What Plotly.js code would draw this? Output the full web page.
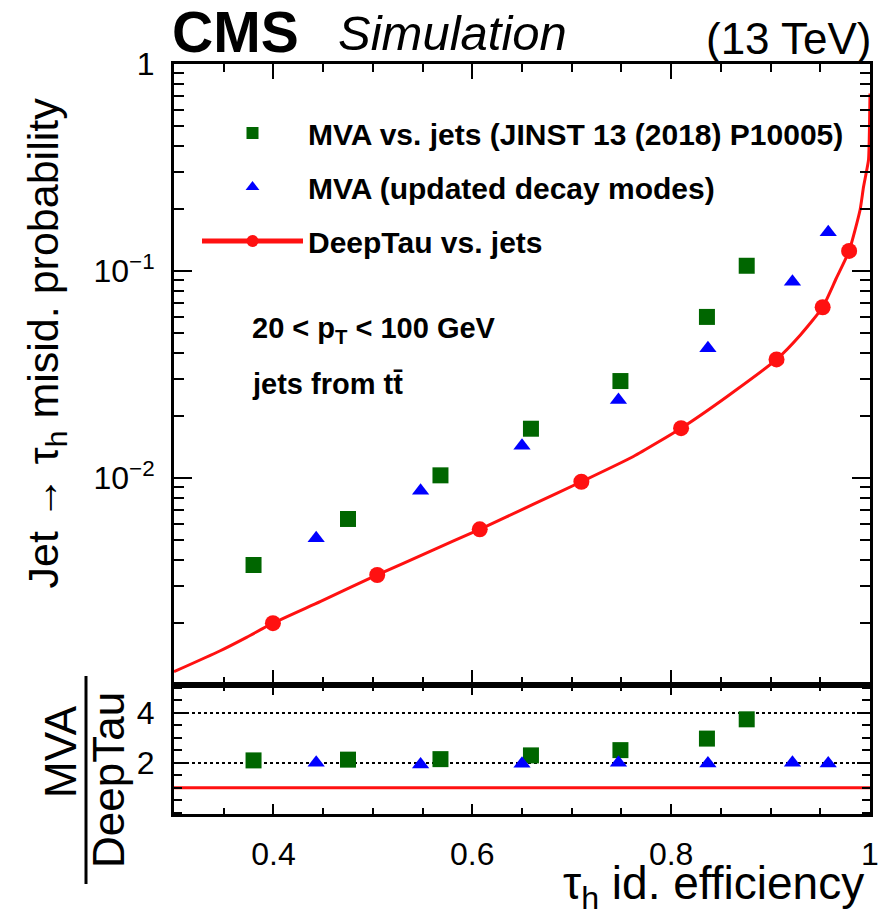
<!DOCTYPE html>
<html>
<head>
<meta charset="utf-8">
<script src="https://cdn.plot.ly/plotly-3.0.1.min.js"></script>
<style>html,body{margin:0;padding:0;background:#fff;}#plot{width:895px;height:913px;}</style>
</head>
<body>
<div id="plot"></div>
<script>
// ---- data ----
const mvaX = [0.380, 0.475, 0.568, 0.659, 0.749, 0.836, 0.876];
const mvaY = [0.00380, 0.00634, 0.0103, 0.0173, 0.0294, 0.0600, 0.106];
const mvaUpdX = [0.443, 0.548, 0.650, 0.747, 0.837, 0.922, 0.958];
const mvaUpdY = [0.00511, 0.00868, 0.0143, 0.0238, 0.0423, 0.0888, 0.154];
const deepX = [0.3995, 0.5044, 0.6075, 0.7097, 0.810, 0.906, 0.9524, 0.979];
const deepY = [0.00199, 0.00340, 0.00565, 0.00959, 0.0174, 0.0374, 0.0668, 0.125];
const curveX = [0.300, 0.346, 0.373, 0.3995, 0.447, 0.5044, 0.557, 0.6075, 0.660, 0.7097, 0.762, 0.810, 0.856, 0.906, 0.930, 0.9524, 0.966, 0.979, 0.990, 0.9935, 0.9985, 0.9995, 1.000];
const curveY = [0.00116, 0.00146, 0.00170, 0.00199, 0.00253, 0.00340, 0.00441, 0.00565, 0.00741, 0.00959, 0.0127, 0.0174, 0.0247, 0.0374, 0.0491, 0.0668, 0.092, 0.125, 0.197, 0.255, 0.344, 0.50, 0.72];
const ratioMvaY = [2.09, 2.12, 2.14, 2.29, 2.50, 2.96, 3.73];
const ratioUpdY = [2.00, 1.93, 1.96, 2.00, 1.97, 2.00, 1.97];
const refX = [0.3, 1.0];
const refY = [1, 1];
const xTickVals = [0.4, 0.6, 0.8, 1.0];
const xTickText = ['0.4', '0.6', '0.8', '1'];
const yTickVals = [0.01, 0.1, 1];
const yTickText = ['10<sup>\u22122</sup>', '10<sup>\u22121</sup>', '1'];
const rTickVals = [2, 4];
const rTickText = ['2', '4'];
const legendNames = ['MVA vs. jets (JINST 13 (2018) P10005)', 'MVA (updated decay modes)', 'DeepTau vs. jets'];

const GREEN = '#006600', BLUE = '#0000ff', RED = '#ff1111';
const FONT = 'Liberation Sans, Arial, sans-serif';

const deepSizes = curveX.map(v => deepX.indexOf(v) >= 0 ? 16 : 0);

const traces = [
  {x: mvaX, y: mvaY, type: 'scatter', mode: 'markers', name: legendNames[0], legendgroup: 'a',
   marker: {symbol: 'square', size: 16, color: GREEN}, xaxis: 'x', yaxis: 'y'},
  {x: mvaUpdX, y: mvaUpdY, type: 'scatter', mode: 'markers', name: legendNames[1], legendgroup: 'b',
   marker: {symbol: 'triangle-up', size: 15, color: BLUE}, xaxis: 'x', yaxis: 'y'},
  {x: curveX, y: curveY, type: 'scatter', mode: 'lines+markers', name: legendNames[2], legendgroup: 'c',
   line: {color: RED, width: 3, shape: 'spline', smoothing: 0.5},
   marker: {symbol: 'circle', size: deepSizes, color: RED, opacity: 1, line: {width: 0}}, xaxis: 'x', yaxis: 'y'},
  {x: refX, y: refY, type: 'scatter', mode: 'lines', showlegend: false,
   line: {color: RED, width: 3}, xaxis: 'x2', yaxis: 'y2'},
  {x: mvaX, y: ratioMvaY, type: 'scatter', mode: 'markers', showlegend: false,
   marker: {symbol: 'square', size: 16, color: GREEN}, xaxis: 'x2', yaxis: 'y2'},
  {x: mvaUpdX, y: ratioUpdY, type: 'scatter', mode: 'markers', showlegend: false,
   marker: {symbol: 'triangle-up', size: 15, color: BLUE}, xaxis: 'x2', yaxis: 'y2'}
];

const L = 174, R = 870, T = 64, B = 814, W = 895, H = 913;
const px = v => (v - L) / (R - L);
const py = v => (B - v) / (B - T);
const SPLIT = 0.172;
const X_RANGE = [0.3, 1.0], Y_LOG_RANGE = [-3, 0], R_RANGE = [-0.05, 5.1];
const plotH = B - T, plotW = R - L;

function ax(extra) {
  return Object.assign({linecolor: 'black', linewidth: 3, mirror: true, ticks: '',
    showgrid: false, zeroline: false,
    tickfont: {family: FONT, size: 32, color: 'black'}}, extra);
}

const layout = {
  width: W, height: H,
  margin: {l: L, r: W - R, t: T, b: H - B},
  paper_bgcolor: 'white', plot_bgcolor: 'rgba(0,0,0,0)',
  showlegend: true,
  legend: {x: px(197), y: py(107), xanchor: 'left', yanchor: 'top', bgcolor: 'rgba(0,0,0,0)',
    font: {family: FONT, size: 30, color: 'black', weight: 'bold'}, tracegroupgap: 12, itemwidth: 101,
    itemsizing: 'constant', traceorder: 'grouped'},
  xaxis: ax({domain: [0, 1], range: X_RANGE, anchor: 'y', showticklabels: false, tickvals: xTickVals}),
  yaxis: ax({domain: [SPLIT, 1], type: 'log', range: Y_LOG_RANGE, anchor: 'x',
    tickvals: yTickVals, ticktext: yTickText, ticklabelstandoff: 10}),
  xaxis2: ax({domain: [0, 1], range: X_RANGE, anchor: 'y2',
    tickvals: xTickVals, ticktext: xTickText, ticklabelstandoff: 10}),
  yaxis2: ax({domain: [0, SPLIT], range: R_RANGE, anchor: 'x2',
    tickvals: rTickVals, ticktext: rTickText, ticklabelstandoff: 10,
    showgrid: true, gridcolor: 'black', gridwidth: 1.5, griddash: 'dot'}),
  annotations: [
    {xref: 'paper', yref: 'paper', x: px(170), y: py(32), xanchor: 'left', yanchor: 'middle', showarrow: false,
     text: '<b>CMS</b>', font: {family: FONT, size: 57, color: 'black'}},
    {xref: 'paper', yref: 'paper', x: px(336), y: py(33), xanchor: 'left', yanchor: 'middle', showarrow: false,
     text: '<i>Simulation</i>', font: {family: FONT, size: 49, color: 'black'}},
    {xref: 'paper', yref: 'paper', x: px(874), y: py(38), xanchor: 'right', yanchor: 'middle', showarrow: false,
     text: '(13 TeV)', font: {family: FONT, size: 44, color: 'black'}},
    {xref: 'paper', yref: 'paper', x: px(250), y: py(330), xanchor: 'left', yanchor: 'middle', showarrow: false,
     text: '<b>20 < p<sub>T</sub> < 100 GeV</b>', font: {family: FONT, size: 29, color: 'black'}},
    {xref: 'paper', yref: 'paper', x: px(250), y: py(384), xanchor: 'left', yanchor: 'middle', showarrow: false,
     text: '<b>jets from tt\u0304</b>', font: {family: FONT, size: 29, color: 'black'}},
    {xref: 'paper', yref: 'paper', x: px(45), y: py(96), xanchor: 'center', yanchor: 'top', showarrow: false, textangle: -90,
     text: 'Jet \u2192 \u03c4<sub>h</sub> misid. probability', font: {family: FONT, size: 43, color: 'black'}},
    {xref: 'paper', yref: 'paper', x: px(866), y: py(886), xanchor: 'right', yanchor: 'middle', showarrow: false,
     text: '\u03c4<sub>h</sub> id. efficiency', font: {family: FONT, size: 46, color: 'black'}},
    {xref: 'paper', yref: 'paper', x: px(60), y: py(752), xanchor: 'center', yanchor: 'middle', showarrow: false, textangle: -90,
     text: 'MVA', font: {family: FONT, size: 44, color: 'black'}},
    {xref: 'paper', yref: 'paper', x: px(108), y: py(780), xanchor: 'center', yanchor: 'middle', showarrow: false, textangle: -90,
     text: 'DeepTau', font: {family: FONT, size: 44, color: 'black'}}
  ],
  shapes: [
    {type: 'line', xref: 'paper', yref: 'paper', x0: px(86), x1: px(86), y0: py(676), y1: py(884),
     line: {color: 'black', width: 3}}
  ]
};

// ---- ROOT-style inside tick marks: short grid lines of thin helper subplots along each frame edge ----
let axN = 3;
const hidden = {showgrid: false, showticklabels: false, showline: false, zeroline: false, ticks: '', fixedrange: true};
function xTickStrip(vals, lenPx, edge, dir, xRange) {
  const f = lenPx / plotH;
  const dom = dir > 0 ? [edge, edge + f] : [edge - f, edge];
  layout['xaxis' + axN] = Object.assign({}, hidden, {domain: [0, 1], range: xRange, anchor: 'y' + axN,
    tickmode: 'array', tickvals: vals, showgrid: true, gridcolor: 'black', gridwidth: 2});
  layout['yaxis' + axN] = Object.assign({}, hidden, {domain: dom, range: [0, 1], anchor: 'x' + axN});
  traces.push({x: [], y: [], type: 'scatter', mode: 'markers', showlegend: false, hoverinfo: 'skip',
    xaxis: 'x' + axN, yaxis: 'y' + axN});
  axN++;
}
function yTickStrip(vals, lenPx, yDomain, yType, yRange, edge, dir) {
  const f = lenPx / plotW;
  const dom = dir > 0 ? [edge, edge + f] : [edge - f, edge];
  layout['yaxis' + axN] = Object.assign({}, hidden, {domain: yDomain, type: yType, range: yRange, anchor: 'x' + axN,
    tickmode: 'array', tickvals: vals, showgrid: true, gridcolor: 'black', gridwidth: 2});
  layout['xaxis' + axN] = Object.assign({}, hidden, {domain: dom, range: [0, 1], anchor: 'y' + axN});
  traces.push({x: [], y: [], type: 'scatter', mode: 'markers', showlegend: false, hoverinfo: 'skip',
    xaxis: 'x' + axN, yaxis: 'y' + axN});
  axN++;
}
const xMajor = [0.4, 0.6, 0.8];
const xMinor = [];
for (let i = 7; i < 20; i++) { const v = +(i * 0.05).toFixed(2); if (xMajor.indexOf(v) < 0) xMinor.push(v); }
const yMinorVals = [];
[0.001, 0.01, 0.1].forEach(d => { for (let k = 2; k <= 9; k++) yMinorVals.push(+(k * d).toPrecision(3)); });
const rMinor = [];
for (let i = 0; i <= 10; i++) { const v = i * 0.5; if (rTickVals.indexOf(v) < 0) rMinor.push(v); }

// main panel: bottom and top edges
xTickStrip(xMajor, 15, SPLIT, +1, X_RANGE);
xTickStrip(xMinor, 8, SPLIT, +1, X_RANGE);
xTickStrip(xMajor, 15, 1, -1, X_RANGE);
xTickStrip(xMinor, 8, 1, -1, X_RANGE);
// ratio panel: bottom and top edges
xTickStrip(xMajor, 10, 0, +1, X_RANGE);
xTickStrip(xMinor, 6, 0, +1, X_RANGE);
xTickStrip(xMajor, 10, SPLIT, -1, X_RANGE);
xTickStrip(xMinor, 6, SPLIT, -1, X_RANGE);
// main panel: left and right edges (log scale)
yTickStrip([0.01, 0.1], 18, [SPLIT, 1], 'log', Y_LOG_RANGE, 0, +1);
yTickStrip(yMinorVals, 10, [SPLIT, 1], 'log', Y_LOG_RANGE, 0, +1);
yTickStrip([0.01, 0.1], 18, [SPLIT, 1], 'log', Y_LOG_RANGE, 1, -1);
yTickStrip(yMinorVals, 10, [SPLIT, 1], 'log', Y_LOG_RANGE, 1, -1);
// ratio panel: left and right edges
yTickStrip(rTickVals, 13, [0, SPLIT], 'linear', R_RANGE, 0, +1);
yTickStrip(rMinor, 8, [0, SPLIT], 'linear', R_RANGE, 0, +1);
yTickStrip(rTickVals, 13, [0, SPLIT], 'linear', R_RANGE, 1, -1);
yTickStrip(rMinor, 8, [0, SPLIT], 'linear', R_RANGE, 1, -1);

Plotly.newPlot('plot', traces, layout, {displayModeBar: false});
</script>
</body>
</html>
